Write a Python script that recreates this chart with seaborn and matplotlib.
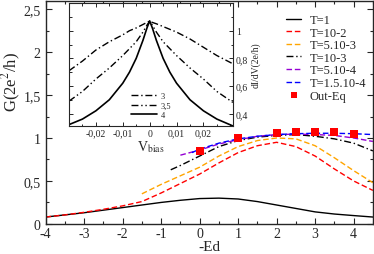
import pandas as pd
import matplotlib
matplotlib.use("Agg")
import matplotlib.pyplot as plt
import matplotlib.ticker as mticker
import seaborn as sns

# ── Data ─────────────────────────────────────────────────────────────────────
ED = [-4, -3.5, -3, -2.5, -2, -1.5, -1, -0.5, 0, 0.5, 1, 1.5, 2, 2.5, 3, 3.5, 4, 4.5]
G_T1 = [0.08, 0.105, 0.13, 0.16, 0.19, 0.22, 0.25, 0.275, 0.295, 0.30, 0.29, 0.26,
        0.22, 0.18, 0.14, 0.115, 0.097, 0.08]
G_T1e2 = [0.08, 0.105, 0.135, 0.17, 0.21, 0.26, 0.36, 0.47, 0.58, 0.71, 0.83, 0.91,
          0.95, 0.90, 0.79, 0.64, 0.50, 0.39]

ED_T5e3 = [-1.5, -1, -0.5, 0, 0.5, 1, 1.5, 2, 2.5, 3, 3.5, 4, 4.5]
G_T5e3 = [0.35, 0.46, 0.56, 0.66, 0.79, 0.90, 0.97, 1.0, 0.99, 0.91, 0.77, 0.62, 0.48]

ED_T1e3 = [-0.75, -0.5, 0, 0.5, 1, 1.5, 2, 2.5, 3, 3.5, 4, 4.5]
G_T1e3 = [0.63, 0.68, 0.79, 0.90, 0.97, 1.01, 1.03, 1.04, 1.02, 0.99, 0.94, 0.85]

ED_T5e4 = [-0.5, 0, 0.5, 1, 1.5, 2, 2.5, 3, 3.5, 4, 4.5]
G_T5e4 = [0.80, 0.86, 0.93, 0.98, 1.02, 1.04, 1.045, 1.04, 1.03, 1.0, 0.96]

ED_T15e4 = [-0.2, 0, 0.5, 1, 1.5, 2, 2.5, 3, 3.5, 4, 4.5]
G_T15e4 = [0.83, 0.87, 0.94, 0.99, 1.02, 1.04, 1.05, 1.055, 1.055, 1.05, 1.04]

ED_OUT = [0, 1, 2, 2.5, 3, 3.5, 4]
G_OUT = [0.85, 1.0, 1.055, 1.065, 1.07, 1.065, 1.045]

# inset: dI/dV vs V_bias
VBIAS = [-0.03, -0.025, -0.02, -0.015, -0.01, -0.0075, -0.005, -0.0025, -0.001, 0,
         0.001, 0.0025, 0.005, 0.0075, 0.01, 0.015, 0.02, 0.025, 0.031]
DIDV_3 = [0.71, 0.78, 0.86, 0.92, 0.97, 1.0, 1.02, 1.045, 1.06, 1.07,
          1.06, 1.05, 1.03, 1.01, 0.99, 0.94, 0.88, 0.82, 0.76]
DIDV_35 = [0.49, 0.56, 0.65, 0.73, 0.82, 0.87, 0.92, 0.99, 1.04, 1.07,
           1.04, 0.99, 0.92, 0.87, 0.82, 0.73, 0.65, 0.56, 0.48]
DIDV_4 = [0.32, 0.36, 0.42, 0.50, 0.62, 0.70, 0.80, 0.93, 1.02, 1.07,
          1.02, 0.93, 0.80, 0.70, 0.62, 0.50, 0.42, 0.36, 0.31]

# ── Style ────────────────────────────────────────────────────────────────────
sns.set_style("ticks")
plt.rcParams["font.family"] = ["Liberation Serif", "DejaVu Serif"]
plt.rcParams["mathtext.fontset"] = "stix"
plt.rcParams["xtick.direction"] = "in"
plt.rcParams["ytick.direction"] = "in"


def comma(v, _):
    return f"{v:g}".replace(".", ",")


fig = plt.figure(figsize=(3.74, 2.55), dpi=100)
ax = fig.add_axes([0.122, 0.118, 0.875, 0.876])

main_curves = [
    (ED, G_T1, "black", "-", "T=1"),
    (ED, G_T1e2, "#ff0000", (0, (4, 2)), "T=10-2"),
    (ED_T5e3, G_T5e3, "#ffa500", (0, (4, 2)), "T=5.10-3"),
    (ED_T1e3, G_T1e3, "black", (0, (5, 2, 1, 2)), "T=10-3"),
    (ED_T5e4, G_T5e4, "#9400d3", (0, (4, 2)), "T=5.10-4"),
    (ED_T15e4, G_T15e4, "#0000ff", (0, (4, 2)), "T=1.5.10-4"),
]
for xs, ys, col, ls, lab in main_curves:
    sns.lineplot(x=xs, y=ys, ax=ax, color=col, linestyle=ls, linewidth=1.0, label=lab)
sns.scatterplot(x=ED_OUT, y=G_OUT, ax=ax, color="#ff0000", marker="s", s=30,
                linewidth=0, label="Out-Eq", zorder=5)

ax.set_xlim(-4, 4.5)
ax.set_ylim(0, 2.6)
ax.xaxis.set_major_locator(mticker.MultipleLocator(1))
ax.xaxis.set_minor_locator(mticker.MultipleLocator(0.5))
ax.yaxis.set_major_locator(mticker.MultipleLocator(0.5))
ax.yaxis.set_minor_locator(mticker.MultipleLocator(0.25))
ax.xaxis.set_major_formatter(mticker.FuncFormatter(comma))
ax.yaxis.set_major_formatter(mticker.FuncFormatter(comma))
ax.tick_params(which="both", top=True, right=True, labelsize=10, width=0.8)
ax.tick_params(axis="x", pad=2)
ax.tick_params(which="major", length=4)
ax.tick_params(which="minor", length=2)
for s in ax.spines.values():
    s.set_linewidth(1.0)
ax.set_xlabel("-Ed", fontsize=11)
ax.xaxis.set_label_coords(0.5, -0.07)
ax.set_ylabel("G(2e$^{2}$/h)", fontsize=12)
ax.yaxis.set_label_coords(-0.07, 0.64)
ax.legend(loc="upper left", bbox_to_anchor=(0.735, 0.94), frameon=False,
          fontsize=9, handlelength=1.2, handletextpad=0.7, labelspacing=0.05,
          borderpad=0, borderaxespad=0, markerscale=0.9)

# ── Inset ────────────────────────────────────────────────────────────────────
ins = fig.add_axes([0.1845, 0.502, 0.4385, 0.482])
ins.set_facecolor("white")
sns.lineplot(x=VBIAS, y=DIDV_3, ax=ins, color="black", linestyle=(0, (5, 2, 1, 2)),
             linewidth=1.0, label="3")
sns.lineplot(x=VBIAS, y=DIDV_35, ax=ins, color="black",
             linestyle=(0, (5, 2, 1, 2, 1, 2)), linewidth=1.0, label="3,5")
sns.lineplot(x=VBIAS, y=DIDV_4, ax=ins, color="black", linestyle="-",
             linewidth=1.2, label="4")
ins.set_xlim(-0.03, 0.031)
ins.set_ylim(0.31, 1.2)
ins.set_xticks([-0.02, -0.01, 0, 0.01, 0.02])
ins.xaxis.set_minor_locator(mticker.MultipleLocator(0.005))
ins.set_yticks([0.4, 0.6, 0.8, 1.0])
ins.yaxis.set_minor_locator(mticker.MultipleLocator(0.1))
ins.xaxis.set_major_formatter(mticker.FuncFormatter(comma))
ins.yaxis.set_major_formatter(mticker.FuncFormatter(comma))
ins.yaxis.tick_right()
ins.yaxis.set_label_position("right")
ins.tick_params(which="both", top=True, left=True, right=True, labelsize=7,
                width=0.7, pad=2)
ins.tick_params(which="major", length=3)
ins.tick_params(which="minor", length=1.8)
ins.set_xlabel("V$_{\\rm bias}$", fontsize=10, labelpad=0)
ins.set_ylabel("dI/dV(2e/h)", fontsize=7, labelpad=2)
ins.legend(loc="lower center", bbox_to_anchor=(0.5, 0.02), frameon=False,
           fontsize=6, handlelength=3.2, handletextpad=0.4, labelspacing=0.2,
           borderpad=0)

fig.savefig("out.png", dpi=100)
